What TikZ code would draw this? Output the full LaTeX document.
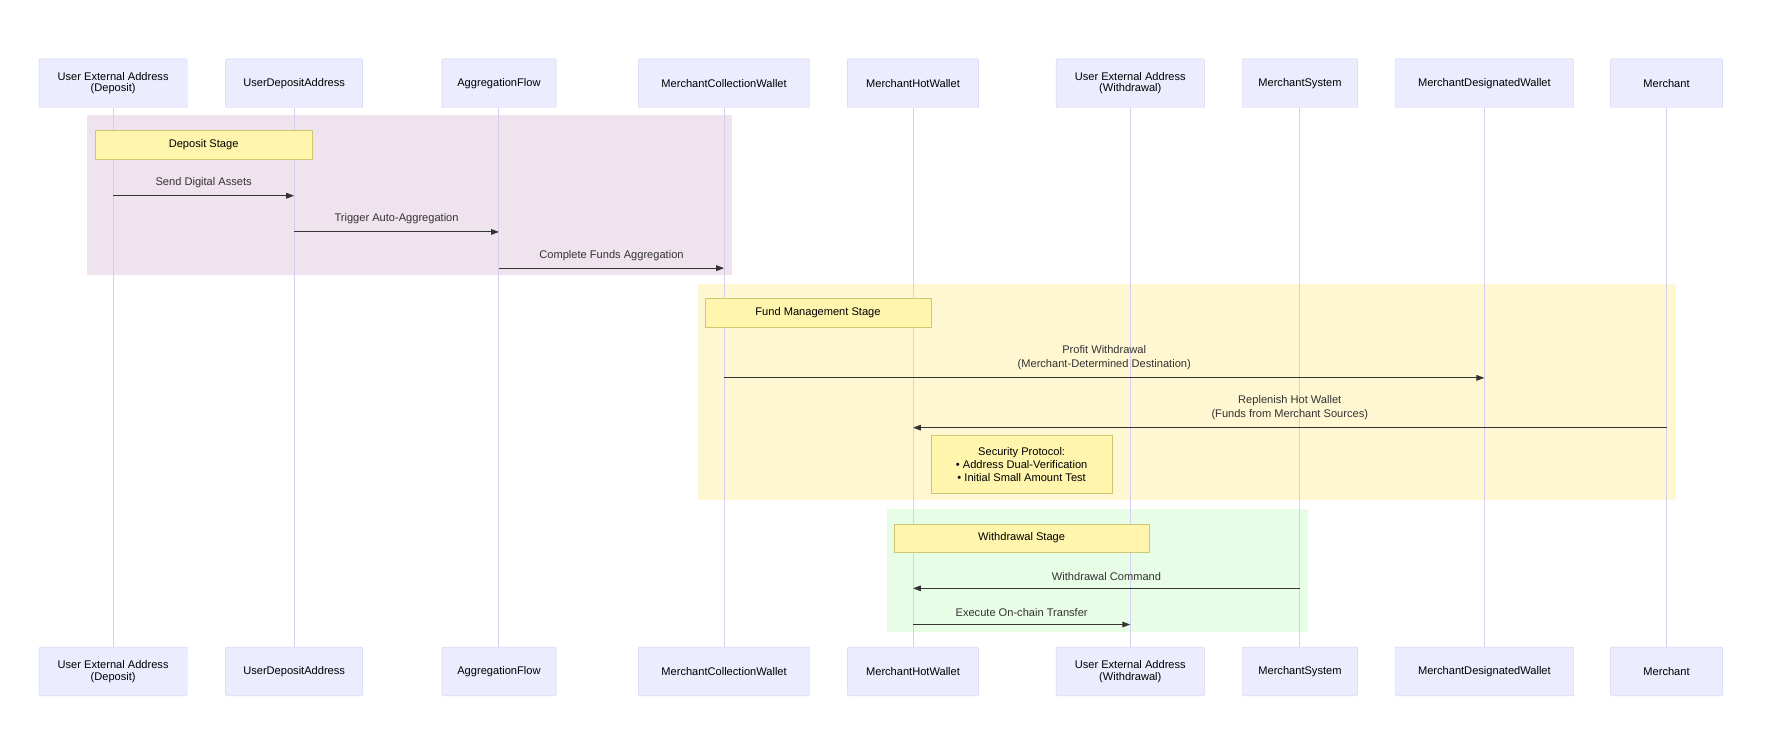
\documentclass[tikz,border=0pt]{standalone}
\usepackage{fontspec}
\setmainfont{Liberation Sans}
\usetikzlibrary{arrows.meta}
\definecolor{actfill}{HTML}{ECECFF}
\definecolor{actdraw}{HTML}{D4D0F4}
\definecolor{life}{HTML}{D8CFF0}
\definecolor{notefill}{HTML}{FFF5AD}
\definecolor{notedraw}{HTML}{CDC870}
\definecolor{depbg}{HTML}{EFE4EE}
\definecolor{fundbg}{HTML}{FFF7D2}
\definecolor{wdbg}{HTML}{E8FDE6}
\definecolor{msg}{HTML}{333333}
\begin{document}
\begin{tikzpicture}[x=1pt,y=-1pt,
  actor/.style={draw=actdraw,fill=actfill,rounded corners=1pt,minimum height=43pt,align=center,font=\fontsize{9.8}{10}\selectfont,inner sep=0pt},
  note/.style={draw=notedraw,fill=notefill,align=center,font=\fontsize{9.8}{11.5}\selectfont,inner sep=0pt},
  lbl/.style={font=\fontsize{9.8}{12.5}\selectfont,text=msg,align=center},
  m/.style={draw=msg,line width=0.9pt,-{Triangle[length=7pt,width=5pt]}},
  lifel/.style={draw=life,line width=0.9pt}]
\useasboundingbox (0,0) rectangle (1568,665);
\fill[depbg] (77,102) rectangle (647,243);
\fill[fundbg] (617,251) rectangle (1481,442);
\fill[wdbg] (784,450) rectangle (1156,559);
\foreach \n/\c/\w/\t in {a/100/131/{User External Address\\(Deposit)},b/260/121/UserDepositAddress,c/441/101/AggregationFlow,d/640/151/MerchantCollectionWallet,e/807/116/MerchantHotWallet,f/999/131/{User External Address\\(Withdrawal)},g/1149/102/MerchantSystem,h/1312/158/MerchantDesignatedWallet,i/1473/99/Merchant}{
  \node[actor,minimum width=\w pt] (\n t) at (\c,73.5) {\t};
  \node[actor,minimum width=\w pt] (\n b) at (\c,593.5) {\t};
  \draw[lifel] (\n t.south) -- (\n b.north);
}
\node[note,minimum width=192pt,minimum height=26pt] (n1) at (180,128) {Deposit Stage};
\node[note,minimum width=200pt,minimum height=25pt] (n2) at (723,276.5) {Fund Management Stage};
\node[note,minimum width=226pt,minimum height=25pt] (n3) at (903,475.5) {Withdrawal Stage};
\node[note,minimum width=160pt,minimum height=51pt] (n4) at (903,410.5) {Security Protocol:\\• Address Dual-Verification\\• Initial Small Amount Test};
\coordinate (p1) at (100,173); \coordinate (p2) at (260,173);
\draw[m] (p1) -- node[lbl,above=3pt] {Send Digital Assets} (p2);
\coordinate (p3) at (260,205); \coordinate (p4) at (441,205);
\draw[m] (p3) -- node[lbl,above=3pt] {Trigger Auto-Aggregation} (p4);
\coordinate (p5) at (441,237); \coordinate (p6) at (640,237);
\draw[m] (p5) -- node[lbl,above=3pt] {Complete Funds Aggregation} (p6);
\coordinate (p7) at (640,334); \coordinate (p8) at (1312,334);
\draw[m] (p7) -- node[lbl,above=3pt] {Profit Withdrawal\\(Merchant-Determined Destination)} (p8);
\coordinate (p9) at (1473,378); \coordinate (p10) at (807,378);
\draw[m] (p9) -- node[lbl,above=3pt] {Replenish Hot Wallet\\(Funds from Merchant Sources)} (p10);
\coordinate (p11) at (1149,520); \coordinate (p12) at (807,520);
\draw[m] (p11) -- node[lbl,above=3pt] {Withdrawal Command} (p12);
\coordinate (p13) at (807,552); \coordinate (p14) at (999,552);
\draw[m] (p13) -- node[lbl,above=3pt] {Execute On-chain Transfer} (p14);
\end{tikzpicture}
\end{document}
